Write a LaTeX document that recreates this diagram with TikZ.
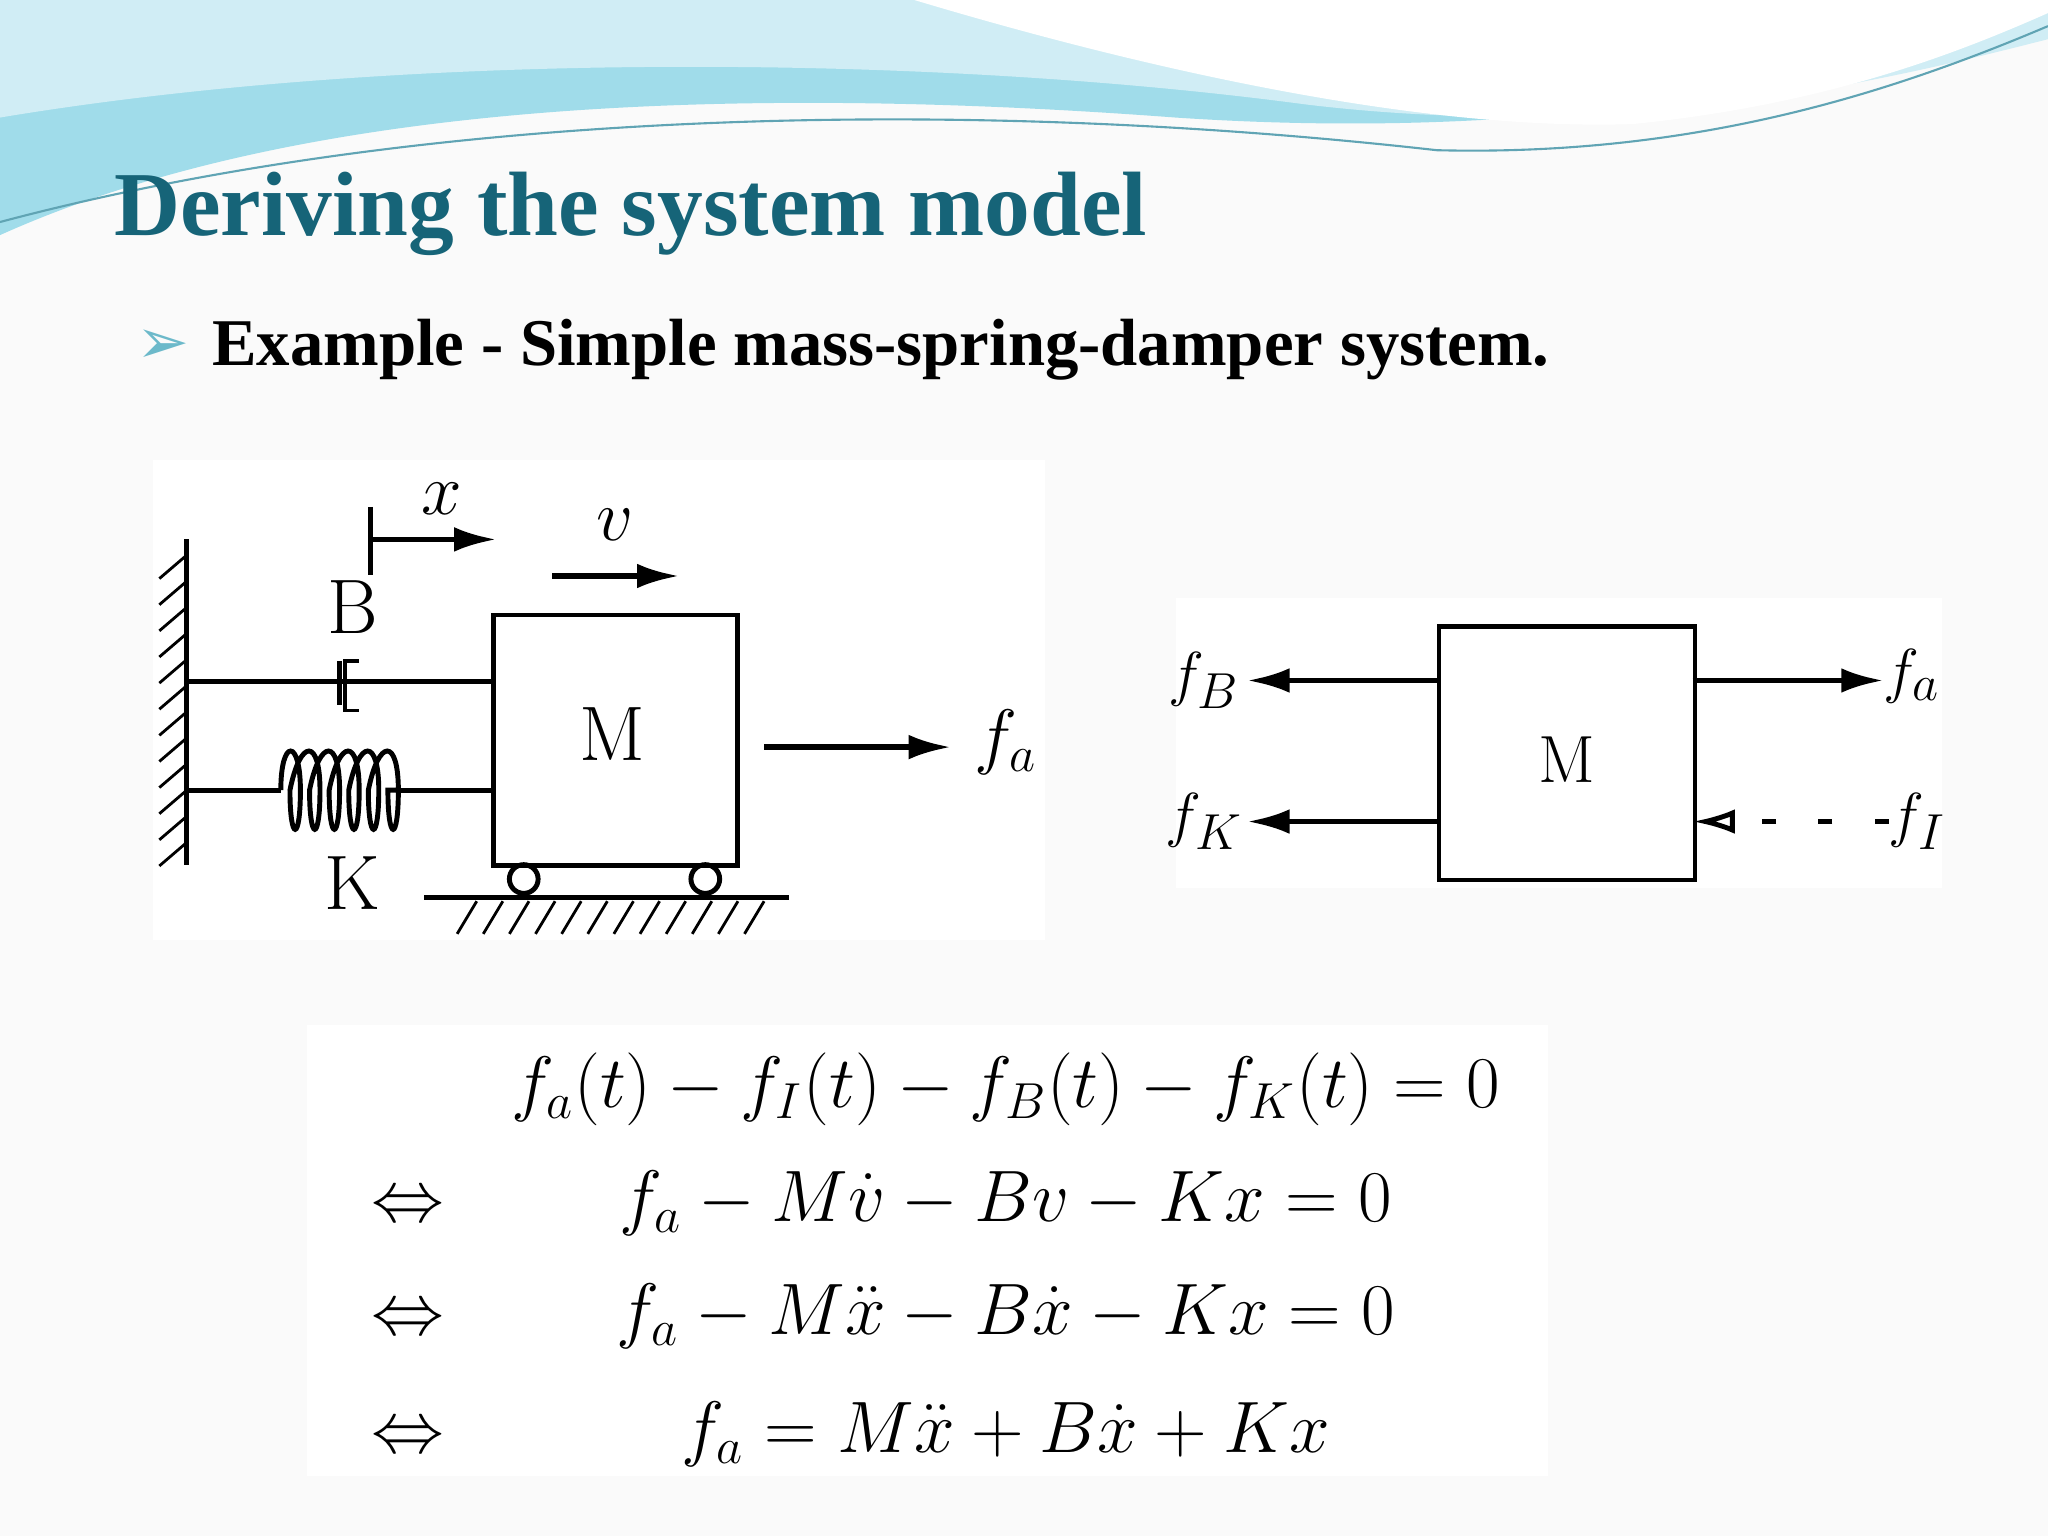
\documentclass[tikz,border=0pt]{standalone}
\usepackage{fontspec}
\usepackage{amsmath}
\newfontfamily\titlefont{Liberation Serif}
\newfontfamily\symfont{DejaVu Sans}
\usetikzlibrary{arrows.meta,patterns}
\definecolor{titleteal}{RGB}{22,100,120}
\definecolor{wavecyan}{RGB}{120,205,225}
\begin{document}
\begin{tikzpicture}[x=0.01306cm,y=-0.01306cm,
  ln/.style={line width=1.4pt},
  arr/.style={line width=1.6pt,-{Latex[length=12pt,width=7pt]}},
  lab/.style={font=\fontsize{22}{26}\selectfont},
  rlab/.style={font=\fontsize{19}{22}\selectfont},
  eq/.style={font=\fontsize{22}{26}\selectfont,anchor=base}]
\useasboundingbox (0,0) rectangle (1568,1176);
\fill[gray!4] (0,0) rectangle (1568,1176);
% waves
\fill[wavecyan!70] (0,0) -- (0,180) .. controls (200,90) and (500,60) .. (900,90) .. controls (1200,110) and (1400,60) .. (1568,20) -- (1568,0) -- cycle;
\fill[wavecyan!35] (0,0) -- (0,90) .. controls (300,40) and (700,40) .. (1000,80) .. controls (1250,110) and (1450,60) .. (1568,30) -- (1568,0) -- cycle;
\fill[white] (700,0) .. controls (900,60) and (1100,100) .. (1250,95) .. controls (1400,80) and (1500,40) .. (1568,10) -- (1568,0) -- cycle;
\draw[wavecyan!80!black,line width=0.6pt] (0,170) .. controls (300,90) and (700,70) .. (1100,115) .. controls (1300,120) and (1450,70) .. (1568,20);
\node[anchor=base west,text=titleteal,font=\titlefont\bfseries\fontsize{26}{30}\selectfont] (title) at (78,180) {Deriving the system model};
\node[anchor=base west,text=wavecyan!90!black,font=\symfont\fontsize{18}{22}\selectfont] (bul) at (95,278) {➢};
\node[anchor=base west,font=\titlefont\bfseries\fontsize{19}{23}\selectfont] (sub) at (153,280) {Example - Simple mass-spring-damper system.};
% left diagram
\fill[white] (117,352) rectangle (800,720);
\draw[ln] (143,413) -- (143,662);
\foreach \y in {425,445,...,655} \draw[line width=0.8pt] (143,\y) -- (122,\y+18);
\draw[ln] (143,522) -- (258,522);
\draw[ln] (260,506) -- (260,540);
\draw[line width=1pt] (275,506) -- (264,506) -- (264,544) -- (275,544);
\draw[ln] (262,522) -- (376,522);
\draw[ln] (143,605) -- (215,605);
\draw[ln] (215,605)
  \foreach \i in {0,...,5} { .. controls (215+15*\i,565) and (230+15*\i,565) .. (230+15*\i,605) .. controls (230+15*\i,645) and (222+15*\i,645) .. (222+15*\i,605) } -- (305,605);
\draw[ln] (305,605) -- (376,605);
\node[draw,line width=1.4pt,minimum width=187*0.01306cm,minimum height=192*0.01306cm,anchor=north west] (M1) at (376,469) {};
\node[lab] at (469,562) {M};
\draw[ln] (401,673) circle (11); \draw[ln] (540,673) circle (11);
\draw[ln] (325,687) -- (604,687);
\foreach \x in {365,385,...,585} \draw[line width=0.8pt] (\x,690) -- (\x-15,715);
\node[lab] at (270,465) {B};
\node[lab] at (270,676) {K};
\draw[ln] (284,388) -- (284,440);
\draw[arr] (284,413) -- (380,413);
\node[lab] at (338,382) {$x$};
\draw[arr] (423,441) -- (520,441);
\node[lab] at (471,402) {$v$};
\coordinate (fas) at (585,572);
\node[lab] (fa) at (770,568) {$f_a$};
\draw[arr] (fas) -- (728,572);
% right diagram
\fill[white] (900,458) rectangle (1487,680);
\node[draw,line width=1.2pt,minimum width=196*0.01306cm,minimum height=194*0.01306cm,anchor=north west] (M2) at (1100,478) {};
\node[rlab] at (1200,582) {M};
\node[rlab] (fB) at (922,521) {$f_B$};
\node[rlab] (fK) at (922,629) {$f_K$};
\node[rlab] (fa2) at (1464,518) {$f_a$};
\node[rlab] (fI) at (1468,629) {$f_I$};
\draw[arr] (1100,521) -- (955,521);
\draw[arr] (1100,629) -- (955,629);
\draw[arr] (1296,521) -- (1442,521);
\draw[line width=1.4pt,dash pattern=on 4pt off 12pt,-{Latex[open,length=12pt,width=7pt]}] (1446,629) -- (1296,629);
% equations
\fill[white] (235,785) rectangle (1185,1130);
\node[eq] at (770,848) {$f_a(t)-f_I(t)-f_B(t)-f_K(t)=0$};
\node[eq] at (312,935) {$\Leftrightarrow$};
\node[eq] at (770,935) {$f_a-M\dot v-Bv-Kx=0$};
\node[eq] at (312,1022) {$\Leftrightarrow$};
\node[eq] at (770,1022) {$f_a-M\ddot x-B\dot x-Kx=0$};
\node[eq] at (312,1112) {$\Leftrightarrow$};
\node[eq] at (770,1112) {$f_a=M\ddot x+B\dot x+Kx$};
\end{tikzpicture}
\end{document}
